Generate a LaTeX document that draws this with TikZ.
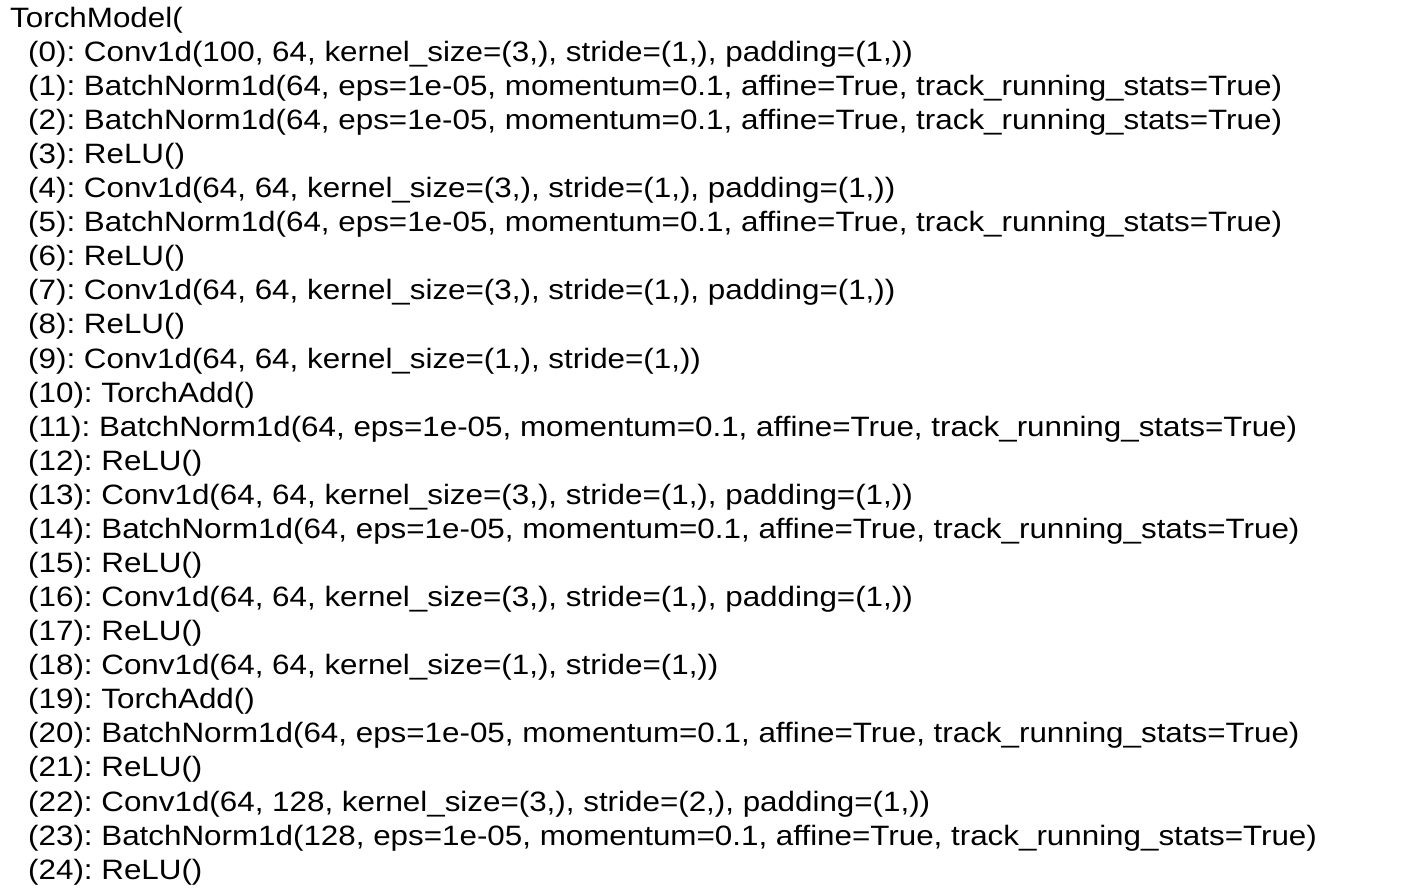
\documentclass[tikz,border=0pt]{standalone}
\usepackage{fontspec}
\setmainfont{Liberation Sans}
\usepackage{tikz}
\usetikzlibrary{positioning}
\frenchspacing

\begin{document}
\begin{tikzpicture}[x=1pt,y=1pt,
  line/.style={anchor=west,inner sep=0pt,transform shape,font=\fontsize{28}{32}\selectfont}]
\useasboundingbox (0,0) rectangle (1424,-888);
\begin{scope}[xscale=1.12]
\node[line] (t) at (8.9,-20) {TorchModel(};
\node[line] (l0) at (25,-54.1) {(0): Conv1d(100, 64, kernel\_size=(3,), stride=(1,), padding=(1,))};
\node[line] (l1) at (25,-88.2) {(1): BatchNorm1d(64, eps=1e-05, momentum=0.1, affine=True, track\_running\_stats=True)};
\node[line] (l2) at (25,-122.2) {(2): BatchNorm1d(64, eps=1e-05, momentum=0.1, affine=True, track\_running\_stats=True)};
\node[line] (l3) at (25,-156.3) {(3): ReLU()};
\node[line] (l4) at (25,-190.4) {(4): Conv1d(64, 64, kernel\_size=(3,), stride=(1,), padding=(1,))};
\node[line] (l5) at (25,-224.5) {(5): BatchNorm1d(64, eps=1e-05, momentum=0.1, affine=True, track\_running\_stats=True)};
\node[line] (l6) at (25,-258.6) {(6): ReLU()};
\node[line] (l7) at (25,-292.6) {(7): Conv1d(64, 64, kernel\_size=(3,), stride=(1,), padding=(1,))};
\node[line] (l8) at (25,-326.7) {(8): ReLU()};
\node[line] (l9) at (25,-360.8) {(9): Conv1d(64, 64, kernel\_size=(1,), stride=(1,))};
\node[line] (l10) at (25,-394.9) {(10): TorchAdd()};
\node[line] (l11) at (25,-428.9) {(11): BatchNorm1d(64, eps=1e-05, momentum=0.1, affine=True, track\_running\_stats=True)};
\node[line] (l12) at (25,-463.0) {(12): ReLU()};
\node[line] (l13) at (25,-497.1) {(13): Conv1d(64, 64, kernel\_size=(3,), stride=(1,), padding=(1,))};
\node[line] (l14) at (25,-531.2) {(14): BatchNorm1d(64, eps=1e-05, momentum=0.1, affine=True, track\_running\_stats=True)};
\node[line] (l15) at (25,-565.2) {(15): ReLU()};
\node[line] (l16) at (25,-599.3) {(16): Conv1d(64, 64, kernel\_size=(3,), stride=(1,), padding=(1,))};
\node[line] (l17) at (25,-633.4) {(17): ReLU()};
\node[line] (l18) at (25,-667.5) {(18): Conv1d(64, 64, kernel\_size=(1,), stride=(1,))};
\node[line] (l19) at (25,-701.5) {(19): TorchAdd()};
\node[line] (l20) at (25,-735.6) {(20): BatchNorm1d(64, eps=1e-05, momentum=0.1, affine=True, track\_running\_stats=True)};
\node[line] (l21) at (25,-769.7) {(21): ReLU()};
\node[line] (l22) at (25,-803.8) {(22): Conv1d(64, 128, kernel\_size=(3,), stride=(2,), padding=(1,))};
\node[line] (l23) at (25,-837.8) {(23): BatchNorm1d(128, eps=1e-05, momentum=0.1, affine=True, track\_running\_stats=True)};
\node[line] (l24) at (25,-871.9) {(24): ReLU()};
\end{scope}
\end{tikzpicture}
\end{document}
